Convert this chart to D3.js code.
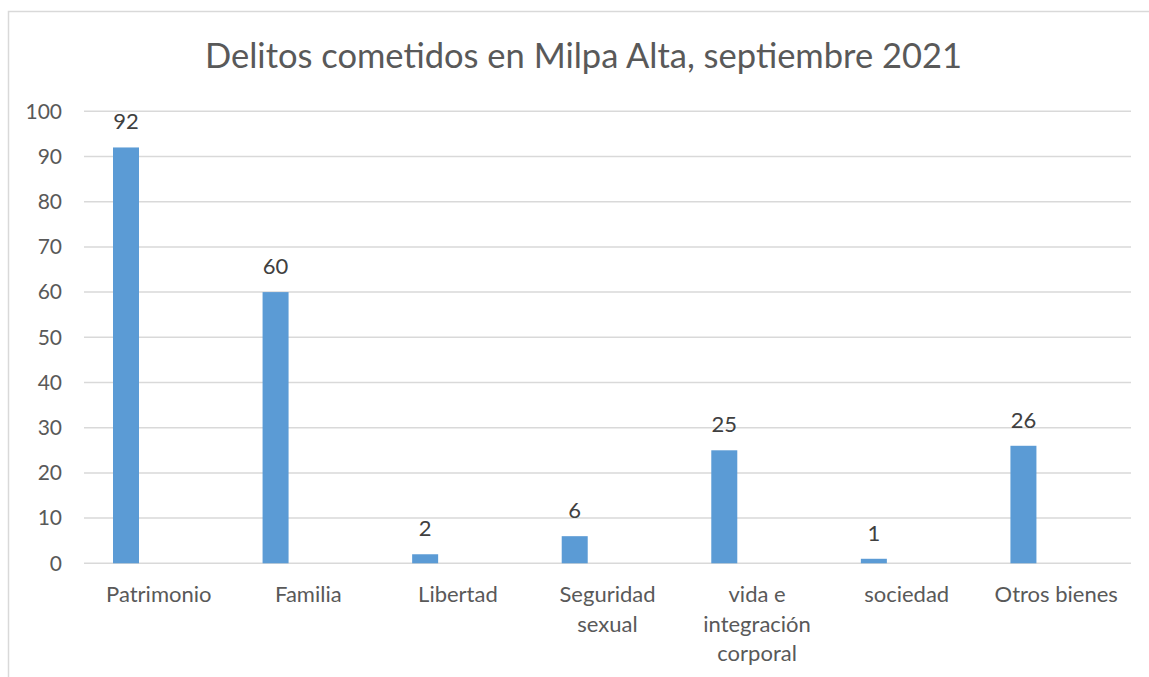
<!DOCTYPE html>
<html>
<head>
<meta charset="utf-8">
<script src="https://cdn.jsdelivr.net/npm/d3@7"></script>
<style>
  html, body { margin: 0; padding: 0; background: #fff; }
  svg { display: block; }
</style>
</head>
<body>
<div id="chart"></div>
<script>
const title = 'Delitos cometidos en Milpa Alta, septiembre 2021';
const categories = ['Patrimonio', 'Familia', 'Libertad', 'Seguridad sexual',
    'vida e integración corporal', 'sociedad', 'Otros bienes'];
const values = [92, 60, 2, 6, 25, 1, 26];
const yTicks = [0, 10, 20, 30, 40, 50, 60, 70, 80, 90, 100];

const width = 1149, height = 677;
const margin = { top: 111.3, right: 18, bottom: 113.7, left: 84 };
const font = 'Lato, "Open Sans", sans-serif';

const svg = d3.select('#chart').append('svg')
    .attr('width', width)
    .attr('height', height);

// chart frame (runs off the right and bottom of the picture)
svg.append('rect')
    .attr('x', 8.5).attr('y', 11.5)
    .attr('width', 1300).attr('height', 900)
    .attr('fill', 'none')
    .attr('stroke', '#d9d9d9')
    .attr('stroke-width', 1.5);

svg.append('text')
    .attr('x', 583.5).attr('y', 68)
    .attr('text-anchor', 'middle')
    .attr('font-family', font)
    .attr('font-size', 34.5)
    .attr('fill', '#595959')
    .text(title);

const x = d3.scaleBand()
    .domain(categories)
    .range([margin.left, width - margin.right]);

const y = d3.scaleLinear()
    .domain([0, 100])
    .range([height - margin.bottom, margin.top]);

// gridlines
svg.append('g')
    .selectAll('line')
    .data(yTicks)
    .join('line')
    .attr('x1', margin.left)
    .attr('x2', width - margin.right)
    .attr('y1', d => y(d))
    .attr('y2', d => y(d))
    .attr('stroke', '#d9d9d9')
    .attr('stroke-width', 1.5);

// y axis labels
const yAxis = d3.axisLeft(y).tickValues(yTicks).tickSize(0).tickPadding(22);
svg.append('g')
    .attr('transform', `translate(${margin.left},0)`)
    .call(yAxis)
    .call(g => g.select('.domain').remove())
    .call(g => g.selectAll('text')
        .attr('font-family', font)
        .attr('font-size', 21)
        .attr('fill', '#595959'));

// bars sit to the left of the band centre (empty second series in the original)
const barOff = 29 / 149.57, barW = 26 / 149.57;
const bw = x.bandwidth();

svg.append('g')
    .selectAll('rect')
    .data(categories)
    .join('rect')
    .attr('x', (d) => x(d) + bw * barOff)
    .attr('y', (d, i) => y(values[i]))
    .attr('width', bw * barW)
    .attr('height', (d, i) => y(0) - y(values[i]))
    .attr('fill', '#5b9bd5');

// data labels
svg.append('g')
    .selectAll('text')
    .data(categories)
    .join('text')
    .attr('x', (d) => x(d) + bw * (barOff + barW / 2))
    .attr('y', (d, i) => y(values[i]) - 18)
    .attr('text-anchor', 'middle')
    .attr('font-family', font)
    .attr('font-size', 22)
    .attr('fill', '#404040')
    .text((d, i) => values[i]);

// category labels, wrapped to the band width
const xAxis = d3.axisBottom(x).tickSize(0).tickPadding(0);
const xg = svg.append('g')
    .attr('transform', `translate(0,${y(0)})`)
    .call(xAxis)
    .call(g => g.select('.domain').remove());

xg.selectAll('text')
    .attr('font-family', font)
    .attr('font-size', 22)
    .attr('fill', '#595959')
    .attr('dy', null)
    .each(function(d) {
        const t = d3.select(this).text('');
        const words = d.split(' ');
        const lines = [];
        let cur = '';
        const probe = t.append('tspan');
        words.forEach(w => {
            const test = cur ? cur + ' ' + w : w;
            probe.text(test);
            if (probe.node().getComputedTextLength() > bw - 6 && cur) {
                lines.push(cur);
                cur = w;
            } else {
                cur = test;
            }
        });
        lines.push(cur);
        probe.remove();
        lines.forEach((l, i) => {
            t.append('tspan')
                .attr('x', 0)
                .attr('y', 39 + i * 29.5)
                .text(l);
        });
    });
</script>
</body>
</html>
